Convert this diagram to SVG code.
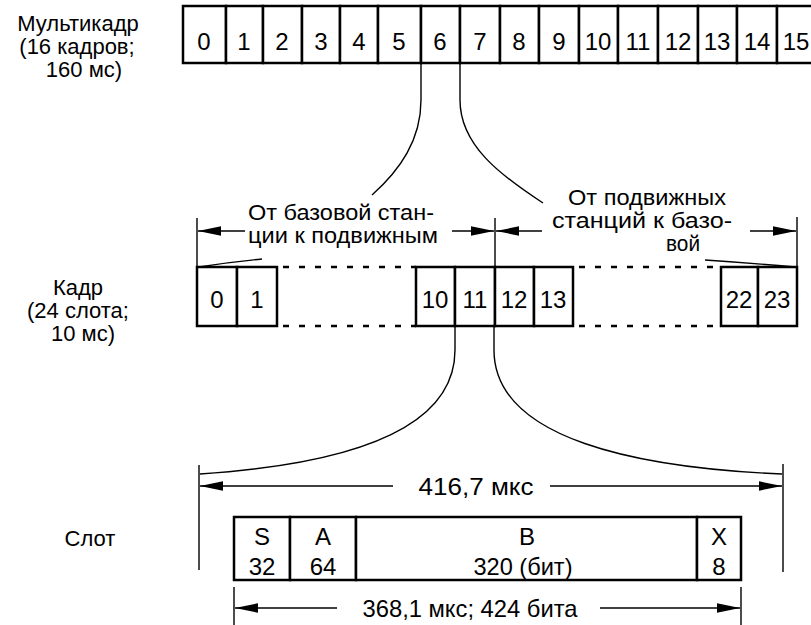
<svg xmlns="http://www.w3.org/2000/svg" width="811" height="625" viewBox="0 0 811 625">
<style>
text{font-family:"Liberation Sans",Arial,sans-serif;fill:#000}
.lbl{font-size:22px;text-anchor:middle}
.big{font-size:24px;text-anchor:middle}
.dig{font-size:24px;text-anchor:middle}
.box{fill:#fff;stroke:#000;stroke-width:2.5}
.thin{fill:none;stroke:#000;stroke-width:1.4}
.dash{fill:none;stroke:#000;stroke-width:2.5;stroke-dasharray:6 10}
</style>
<defs>
<marker id="ah" markerWidth="23" markerHeight="10" refX="23" refY="5" orient="auto" markerUnits="userSpaceOnUse">
<path d="M0,0.3 L23,5 L0,9.7 Z" fill="#000"/>
</marker>
</defs>
<rect width="811" height="625" fill="#fff"/>

<g id="labels">
<text class="lbl" x="78" y="31">Мультикадр</text>
<text class="lbl" x="77" y="54">(16 кадров;</text>
<text class="lbl" x="84" y="77">160 мс)</text>
<text class="lbl" x="78" y="295">Кадр</text>
<text class="lbl" x="78" y="318">(24 слота;</text>
<text class="lbl" x="83" y="341">10 мс)</text>
<text class="lbl" x="90" y="546">Слот</text>
</g>

<g id="multiframe">
<rect class="box" x="183" y="6" width="43" height="57"/>
<rect class="box" x="226" y="6" width="37" height="57"/>
<rect class="box" x="263" y="6" width="39" height="57"/>
<rect class="box" x="302" y="6" width="38" height="57"/>
<rect class="box" x="340" y="6" width="38" height="57"/>
<rect class="box" x="378" y="6" width="43" height="57"/>
<rect class="box" x="421" y="6" width="39" height="57"/>
<rect class="box" x="460" y="6" width="40" height="57"/>
<rect class="box" x="500" y="6" width="39" height="57"/>
<rect class="box" x="539" y="6" width="40" height="57"/>
<rect class="box" x="579" y="6" width="39" height="57"/>
<rect class="box" x="618" y="6" width="40" height="57"/>
<rect class="box" x="658" y="6" width="40" height="57"/>
<rect class="box" x="698" y="6" width="39" height="57"/>
<rect class="box" x="737" y="6" width="40" height="57"/>
<rect class="box" x="777" y="6" width="40" height="57"/>
<text class="dig" x="204" y="50">0</text>
<text class="dig" x="244" y="50">1</text>
<text class="dig" x="282" y="50">2</text>
<text class="dig" x="321" y="50">3</text>
<text class="dig" x="359" y="50">4</text>
<text class="dig" x="399" y="50">5</text>
<text class="dig" x="440" y="50">6</text>
<text class="dig" x="480" y="50">7</text>
<text class="dig" x="519" y="50">8</text>
<text class="dig" x="559" y="50">9</text>
<text class="dig" x="598" y="50">10</text>
<text class="dig" x="638" y="50">11</text>
<text class="dig" x="678" y="50">12</text>
<text class="dig" x="717" y="50">13</text>
<text class="dig" x="757" y="50">14</text>
<text class="dig" x="796" y="50">15</text>
</g>

<g id="frame">
<rect class="box" x="197" y="267" width="40" height="59"/>
<rect class="box" x="237" y="267" width="40" height="59"/>
<rect class="box" x="416" y="267" width="39" height="59"/>
<rect class="box" x="455" y="267" width="40" height="59"/>
<rect class="box" x="495" y="267" width="39" height="59"/>
<rect class="box" x="534" y="267" width="39" height="59"/>
<rect class="box" x="721" y="267" width="37" height="59"/>
<rect class="box" x="758" y="267" width="39" height="59"/>
<path class="dash" d="M283,267 H416 M283,326 H416 M579,267 H721 M579,326 H721"/>
<text class="dig" x="217" y="308">0</text>
<text class="dig" x="257" y="308">1</text>
<text class="dig" x="435" y="308">10</text>
<text class="dig" x="475" y="308">11</text>
<text class="dig" x="514" y="308">12</text>
<text class="dig" x="553" y="308">13</text>
<text class="dig" x="739" y="308">22</text>
<text class="dig" x="777" y="308">23</text>
</g>

<g id="slot">
<rect class="box" x="234" y="517" width="56" height="63"/>
<rect class="box" x="290" y="517" width="66" height="63"/>
<rect class="box" x="356" y="517" width="341" height="63"/>
<rect class="box" x="697" y="517" width="44" height="63"/>
<text class="big" x="262" y="545">S</text>
<text class="big" x="262" y="575">32</text>
<text class="big" x="323" y="545">A</text>
<text class="big" x="323" y="575">64</text>
<text class="big" x="527" y="545">B</text>
<text class="big" x="523" y="575" textLength="99" lengthAdjust="spacingAndGlyphs">320 (бит)</text>
<text class="big" x="719" y="545">X</text>
<text class="big" x="719" y="575">8</text>
</g>

<g id="connectors">
<path class="thin" d="M421,63 L421,100 C421,140 400,170 372,195"/>
<path class="thin" d="M460,63 L460,100 C460,145 500,175 543,203"/>
<path class="thin" d="M262,259 Q230,262 199,267"/>
<path class="thin" d="M705,260 Q750,263 795,267"/>
<path class="thin" d="M455,326 L455,350 C455,440 320,466 200,474"/>
<path class="thin" d="M494,326 L494,350 C494,440 640,468 782,474"/>
</g>

<g id="dimensions">
<path class="thin" d="M197,218 V267 M495,218 V267 M797,217 V267"/>
<line class="thin" x1="245" y1="231" x2="198" y2="231" marker-end="url(#ah)"/>
<line class="thin" x1="452" y1="231" x2="494" y2="231" marker-end="url(#ah)"/>
<line class="thin" x1="542" y1="231" x2="496" y2="231" marker-end="url(#ah)"/>
<line class="thin" x1="750" y1="231" x2="796" y2="231" marker-end="url(#ah)"/>
<text class="lbl" x="341" y="220" textLength="186" lengthAdjust="spacingAndGlyphs">От базовой стан-</text>
<text class="lbl" x="343" y="243" textLength="190" lengthAdjust="spacingAndGlyphs">ции к подвижным</text>
<text class="lbl" x="647" y="205" textLength="158" lengthAdjust="spacingAndGlyphs">От подвижных</text>
<text class="lbl" x="642" y="228" textLength="180" lengthAdjust="spacingAndGlyphs">станций к базо-</text>
<text class="lbl" x="683" y="251" textLength="34" lengthAdjust="spacingAndGlyphs">вой</text>

<path class="thin" d="M199,465 V570 M783,464 V572"/>
<line class="thin" x1="393" y1="486" x2="200" y2="486" marker-end="url(#ah)"/>
<line class="thin" x1="550" y1="486" x2="782" y2="486" marker-end="url(#ah)"/>
<text class="big" x="476" y="495" textLength="115" lengthAdjust="spacingAndGlyphs">416,7 мкс</text>

<path class="thin" d="M234,587 V625 M741,587 V625"/>
<line class="thin" x1="337" y1="608" x2="235" y2="608" marker-end="url(#ah)"/>
<line class="thin" x1="600" y1="608" x2="740" y2="608" marker-end="url(#ah)"/>
<text class="big" x="470" y="617" textLength="215" lengthAdjust="spacingAndGlyphs">368,1 мкс; 424 бита</text>
</g>
</svg>
